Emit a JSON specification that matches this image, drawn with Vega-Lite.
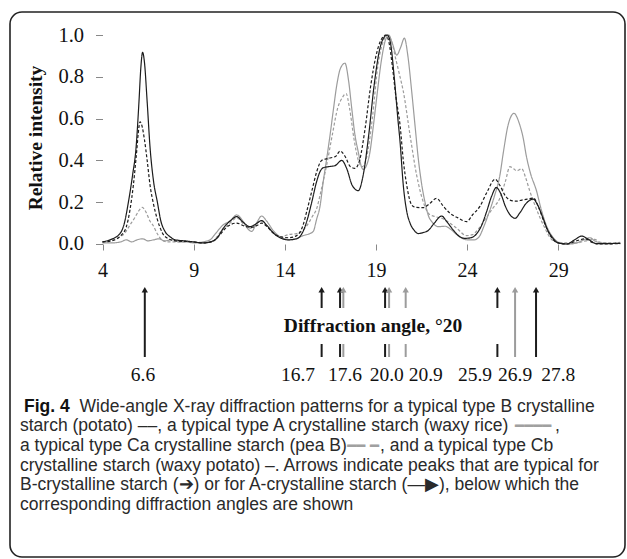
{
  "$schema": "https://vega.github.io/schema/vega-lite/v6.json",
  "width": 615,
  "height": 545,
  "autosize": {"type": "none"},
  "padding": {"left": 10, "top": 12, "right": 2, "bottom": 2},
  "background": "white",
  "config": {
    "view": {"stroke": "#222", "strokeWidth": 1.6, "cornerRadius": 12},
    "font": "Liberation Serif"
  },
  "datasets": {
    "curves": [
      {"s":"A","x":4.0,"y":0.005},{"s":"A","x":4.5,"y":0.005},{"s":"A","x":5.0,"y":0.01},{"s":"A","x":5.3,"y":0.02},{"s":"A","x":5.6,"y":0.01},{"s":"A","x":5.9,"y":0.02},{"s":"A","x":6.2,"y":0.025},{"s":"A","x":6.5,"y":0.015},{"s":"A","x":6.8,"y":0.02},{"s":"A","x":7.1,"y":0.025},{"s":"A","x":7.4,"y":0.015},{"s":"A","x":7.8,"y":0.02},{"s":"A","x":8.2,"y":0.01},{"s":"A","x":8.6,"y":0.01},{"s":"A","x":9.0,"y":0.005},{"s":"A","x":9.5,"y":0.01},{"s":"A","x":9.9,"y":0.02},{"s":"A","x":10.2,"y":0.05},{"s":"A","x":10.6,"y":0.09},{"s":"A","x":11.0,"y":0.11},{"s":"A","x":11.36,"y":0.139},{"s":"A","x":11.7,"y":0.11},{"s":"A","x":12.0,"y":0.07},{"s":"A","x":12.18,"y":0.06},{"s":"A","x":12.45,"y":0.1},{"s":"A","x":12.73,"y":0.134},{"s":"A","x":13.0,"y":0.11},{"s":"A","x":13.4,"y":0.06},{"s":"A","x":13.83,"y":0.03},{"s":"A","x":14.2,"y":0.02},{"s":"A","x":14.6,"y":0.025},{"s":"A","x":15.0,"y":0.04},{"s":"A","x":15.38,"y":0.05},{"s":"A","x":15.56,"y":0.06},{"s":"A","x":15.75,"y":0.12},{"s":"A","x":15.93,"y":0.18},{"s":"A","x":16.11,"y":0.3},{"s":"A","x":16.3,"y":0.41},{"s":"A","x":16.48,"y":0.52},{"s":"A","x":16.66,"y":0.64},{"s":"A","x":16.85,"y":0.76},{"s":"A","x":17.05,"y":0.84},{"s":"A","x":17.3,"y":0.865},{"s":"A","x":17.5,"y":0.78},{"s":"A","x":17.67,"y":0.65},{"s":"A","x":17.85,"y":0.52},{"s":"A","x":18.03,"y":0.44},{"s":"A","x":18.2,"y":0.37},{"s":"A","x":18.31,"y":0.357},{"s":"A","x":18.45,"y":0.37},{"s":"A","x":18.67,"y":0.44},{"s":"A","x":18.85,"y":0.56},{"s":"A","x":19.04,"y":0.7},{"s":"A","x":19.3,"y":0.88},{"s":"A","x":19.5,"y":0.97},{"s":"A","x":19.7,"y":1.0},{"s":"A","x":19.9,"y":0.96},{"s":"A","x":20.14,"y":0.904},{"s":"A","x":20.35,"y":0.94},{"s":"A","x":20.56,"y":0.985},{"s":"A","x":20.75,"y":0.9},{"s":"A","x":20.96,"y":0.73},{"s":"A","x":21.15,"y":0.56},{"s":"A","x":21.32,"y":0.41},{"s":"A","x":21.5,"y":0.29},{"s":"A","x":21.69,"y":0.2},{"s":"A","x":21.9,"y":0.13},{"s":"A","x":22.06,"y":0.107},{"s":"A","x":22.42,"y":0.083},{"s":"A","x":22.8,"y":0.085},{"s":"A","x":23.1,"y":0.07},{"s":"A","x":23.5,"y":0.04},{"s":"A","x":24.0,"y":0.02},{"s":"A","x":24.4,"y":0.02},{"s":"A","x":24.7,"y":0.04},{"s":"A","x":24.9,"y":0.08},{"s":"A","x":25.2,"y":0.15},{"s":"A","x":25.5,"y":0.23},{"s":"A","x":25.8,"y":0.33},{"s":"A","x":25.99,"y":0.44},{"s":"A","x":26.25,"y":0.57},{"s":"A","x":26.57,"y":0.625},{"s":"A","x":26.85,"y":0.58},{"s":"A","x":27.08,"y":0.505},{"s":"A","x":27.25,"y":0.42},{"s":"A","x":27.45,"y":0.346},{"s":"A","x":27.82,"y":0.25},{"s":"A","x":28.05,"y":0.17},{"s":"A","x":28.27,"y":0.107},{"s":"A","x":28.5,"y":0.06},{"s":"A","x":28.73,"y":0.03},{"s":"A","x":29.1,"y":0.005},{"s":"A","x":29.6,"y":0.0},{"s":"A","x":30.0,"y":0.005},{"s":"A","x":30.4,"y":0.02},{"s":"A","x":30.74,"y":0.03},{"s":"A","x":31.0,"y":0.015},{"s":"A","x":31.4,"y":0.005},{"s":"A","x":32.0,"y":0.003},{"s":"A","x":32.4,"y":0.003},

      {"s":"Cb","x":4.0,"y":0.01},{"s":"Cb","x":4.85,"y":0.03},{"s":"Cb","x":5.2,"y":0.05},{"s":"Cb","x":5.5,"y":0.09},{"s":"Cb","x":5.8,"y":0.13},{"s":"Cb","x":6.0,"y":0.16},{"s":"Cb","x":6.18,"y":0.175},{"s":"Cb","x":6.4,"y":0.15},{"s":"Cb","x":6.6,"y":0.11},{"s":"Cb","x":6.77,"y":0.09},{"s":"Cb","x":7.0,"y":0.05},{"s":"Cb","x":7.25,"y":0.02},{"s":"Cb","x":7.6,"y":0.01},{"s":"Cb","x":8.5,"y":0.01},{"s":"Cb","x":9.5,"y":0.005},{"s":"Cb","x":10.0,"y":0.01},{"s":"Cb","x":10.5,"y":0.06},{"s":"Cb","x":11.0,"y":0.1},{"s":"Cb","x":11.36,"y":0.125},{"s":"Cb","x":11.8,"y":0.09},{"s":"Cb","x":12.18,"y":0.075},{"s":"Cb","x":12.5,"y":0.1},{"s":"Cb","x":12.73,"y":0.11},{"s":"Cb","x":13.0,"y":0.09},{"s":"Cb","x":13.4,"y":0.05},{"s":"Cb","x":13.8,"y":0.035},{"s":"Cb","x":14.2,"y":0.045},{"s":"Cb","x":14.65,"y":0.05},{"s":"Cb","x":15.0,"y":0.065},{"s":"Cb","x":15.3,"y":0.1},{"s":"Cb","x":15.5,"y":0.13},{"s":"Cb","x":15.75,"y":0.17},{"s":"Cb","x":16.0,"y":0.26},{"s":"Cb","x":16.3,"y":0.38},{"s":"Cb","x":16.6,"y":0.52},{"s":"Cb","x":16.9,"y":0.65},{"s":"Cb","x":17.15,"y":0.7},{"s":"Cb","x":17.36,"y":0.72},{"s":"Cb","x":17.55,"y":0.65},{"s":"Cb","x":17.8,"y":0.5},{"s":"Cb","x":18.0,"y":0.41},{"s":"Cb","x":18.25,"y":0.37},{"s":"Cb","x":18.5,"y":0.42},{"s":"Cb","x":18.8,"y":0.6},{"s":"Cb","x":19.1,"y":0.85},{"s":"Cb","x":19.4,"y":0.97},{"s":"Cb","x":19.65,"y":1.0},{"s":"Cb","x":19.85,"y":0.97},{"s":"Cb","x":20.1,"y":0.88},{"s":"Cb","x":20.32,"y":0.8},{"s":"Cb","x":20.5,"y":0.73},{"s":"Cb","x":20.87,"y":0.52},{"s":"Cb","x":21.23,"y":0.33},{"s":"Cb","x":21.6,"y":0.2},{"s":"Cb","x":21.96,"y":0.14},{"s":"Cb","x":22.3,"y":0.13},{"s":"Cb","x":22.7,"y":0.12},{"s":"Cb","x":23.06,"y":0.1},{"s":"Cb","x":23.43,"y":0.075},{"s":"Cb","x":23.97,"y":0.04},{"s":"Cb","x":24.3,"y":0.045},{"s":"Cb","x":24.6,"y":0.07},{"s":"Cb","x":25.0,"y":0.12},{"s":"Cb","x":25.4,"y":0.17},{"s":"Cb","x":25.8,"y":0.22},{"s":"Cb","x":26.1,"y":0.3},{"s":"Cb","x":26.35,"y":0.37},{"s":"Cb","x":26.55,"y":0.36},{"s":"Cb","x":26.72,"y":0.35},{"s":"Cb","x":27.0,"y":0.36},{"s":"Cb","x":27.2,"y":0.32},{"s":"Cb","x":27.45,"y":0.25},{"s":"Cb","x":27.7,"y":0.19},{"s":"Cb","x":28.0,"y":0.125},{"s":"Cb","x":28.3,"y":0.07},{"s":"Cb","x":28.55,"y":0.03},{"s":"Cb","x":28.9,"y":0.01},{"s":"Cb","x":29.5,"y":0.005},{"s":"Cb","x":30.0,"y":0.005},{"s":"Cb","x":30.5,"y":0.015},{"s":"Cb","x":31.0,"y":0.022},{"s":"Cb","x":31.3,"y":0.008},{"s":"Cb","x":31.8,"y":0.005},{"s":"Cb","x":32.4,"y":0.008},

      {"s":"Ca","x":4.0,"y":0.01},{"s":"Ca","x":4.5,"y":0.015},{"s":"Ca","x":5.0,"y":0.04},{"s":"Ca","x":5.3,"y":0.08},{"s":"Ca","x":5.5,"y":0.16},{"s":"Ca","x":5.69,"y":0.28},{"s":"Ca","x":5.85,"y":0.42},{"s":"Ca","x":6.0,"y":0.56},{"s":"Ca","x":6.06,"y":0.585},{"s":"Ca","x":6.15,"y":0.57},{"s":"Ca","x":6.3,"y":0.5},{"s":"Ca","x":6.45,"y":0.4},{"s":"Ca","x":6.61,"y":0.28},{"s":"Ca","x":6.8,"y":0.19},{"s":"Ca","x":7.0,"y":0.12},{"s":"Ca","x":7.15,"y":0.08},{"s":"Ca","x":7.3,"y":0.05},{"s":"Ca","x":7.52,"y":0.03},{"s":"Ca","x":8.0,"y":0.015},{"s":"Ca","x":9.0,"y":0.01},{"s":"Ca","x":9.5,"y":0.005},{"s":"Ca","x":10.0,"y":0.01},{"s":"Ca","x":10.4,"y":0.04},{"s":"Ca","x":10.8,"y":0.08},{"s":"Ca","x":11.36,"y":0.1},{"s":"Ca","x":11.8,"y":0.085},{"s":"Ca","x":12.18,"y":0.08},{"s":"Ca","x":12.5,"y":0.09},{"s":"Ca","x":12.73,"y":0.1},{"s":"Ca","x":13.0,"y":0.085},{"s":"Ca","x":13.4,"y":0.05},{"s":"Ca","x":13.74,"y":0.035},{"s":"Ca","x":14.2,"y":0.03},{"s":"Ca","x":14.65,"y":0.04},{"s":"Ca","x":15.0,"y":0.09},{"s":"Ca","x":15.2,"y":0.155},{"s":"Ca","x":15.5,"y":0.26},{"s":"Ca","x":15.75,"y":0.346},{"s":"Ca","x":16.02,"y":0.4},{"s":"Ca","x":16.4,"y":0.41},{"s":"Ca","x":16.8,"y":0.42},{"s":"Ca","x":17.03,"y":0.445},{"s":"Ca","x":17.3,"y":0.42},{"s":"Ca","x":17.6,"y":0.37},{"s":"Ca","x":17.85,"y":0.362},{"s":"Ca","x":18.1,"y":0.4},{"s":"Ca","x":18.4,"y":0.55},{"s":"Ca","x":18.7,"y":0.75},{"s":"Ca","x":19.0,"y":0.9},{"s":"Ca","x":19.3,"y":0.98},{"s":"Ca","x":19.53,"y":1.0},{"s":"Ca","x":19.7,"y":0.97},{"s":"Ca","x":19.9,"y":0.85},{"s":"Ca","x":20.1,"y":0.7},{"s":"Ca","x":20.32,"y":0.57},{"s":"Ca","x":20.5,"y":0.4},{"s":"Ca","x":20.69,"y":0.28},{"s":"Ca","x":20.96,"y":0.187},{"s":"Ca","x":21.2,"y":0.175},{"s":"Ca","x":21.6,"y":0.174},{"s":"Ca","x":21.9,"y":0.19},{"s":"Ca","x":22.33,"y":0.218},{"s":"Ca","x":22.7,"y":0.18},{"s":"Ca","x":23.06,"y":0.147},{"s":"Ca","x":23.5,"y":0.125},{"s":"Ca","x":23.97,"y":0.107},{"s":"Ca","x":24.3,"y":0.14},{"s":"Ca","x":24.7,"y":0.18},{"s":"Ca","x":25.1,"y":0.25},{"s":"Ca","x":25.53,"y":0.31},{"s":"Ca","x":25.8,"y":0.28},{"s":"Ca","x":26.1,"y":0.23},{"s":"Ca","x":26.35,"y":0.21},{"s":"Ca","x":26.7,"y":0.205},{"s":"Ca","x":27.0,"y":0.21},{"s":"Ca","x":27.3,"y":0.215},{"s":"Ca","x":27.63,"y":0.22},{"s":"Ca","x":27.9,"y":0.18},{"s":"Ca","x":28.2,"y":0.11},{"s":"Ca","x":28.5,"y":0.05},{"s":"Ca","x":28.73,"y":0.02},{"s":"Ca","x":29.0,"y":0.005},{"s":"Ca","x":29.5,"y":0.0},{"s":"Ca","x":30.0,"y":0.015},{"s":"Ca","x":30.5,"y":0.025},{"s":"Ca","x":30.8,"y":0.01},{"s":"Ca","x":31.2,"y":0.0},{"s":"Ca","x":32.4,"y":0.002},

      {"s":"B","x":4.0,"y":0.01},{"s":"B","x":4.41,"y":0.02},{"s":"B","x":4.96,"y":0.05},{"s":"B","x":5.2,"y":0.1},{"s":"B","x":5.42,"y":0.2},{"s":"B","x":5.65,"y":0.33},{"s":"B","x":5.84,"y":0.46},{"s":"B","x":6.0,"y":0.68},{"s":"B","x":6.1,"y":0.84},{"s":"B","x":6.2,"y":0.917},{"s":"B","x":6.3,"y":0.87},{"s":"B","x":6.45,"y":0.68},{"s":"B","x":6.61,"y":0.46},{"s":"B","x":6.8,"y":0.3},{"s":"B","x":7.01,"y":0.2},{"s":"B","x":7.2,"y":0.11},{"s":"B","x":7.43,"y":0.06},{"s":"B","x":7.7,"y":0.035},{"s":"B","x":8.0,"y":0.02},{"s":"B","x":8.5,"y":0.015},{"s":"B","x":9.0,"y":0.01},{"s":"B","x":9.5,"y":0.005},{"s":"B","x":9.9,"y":0.01},{"s":"B","x":10.3,"y":0.03},{"s":"B","x":10.63,"y":0.076},{"s":"B","x":11.0,"y":0.11},{"s":"B","x":11.36,"y":0.131},{"s":"B","x":11.7,"y":0.105},{"s":"B","x":12.09,"y":0.083},{"s":"B","x":12.4,"y":0.095},{"s":"B","x":12.73,"y":0.112},{"s":"B","x":13.0,"y":0.09},{"s":"B","x":13.4,"y":0.05},{"s":"B","x":13.74,"y":0.03},{"s":"B","x":14.2,"y":0.02},{"s":"B","x":14.65,"y":0.025},{"s":"B","x":15.0,"y":0.06},{"s":"B","x":15.2,"y":0.107},{"s":"B","x":15.45,"y":0.19},{"s":"B","x":15.75,"y":0.3},{"s":"B","x":15.93,"y":0.346},{"s":"B","x":16.11,"y":0.365},{"s":"B","x":16.4,"y":0.37},{"s":"B","x":16.75,"y":0.375},{"s":"B","x":17.12,"y":0.4},{"s":"B","x":17.4,"y":0.36},{"s":"B","x":17.7,"y":0.28},{"s":"B","x":18.03,"y":0.255},{"s":"B","x":18.3,"y":0.33},{"s":"B","x":18.6,"y":0.52},{"s":"B","x":18.9,"y":0.76},{"s":"B","x":19.2,"y":0.93},{"s":"B","x":19.45,"y":0.99},{"s":"B","x":19.62,"y":1.0},{"s":"B","x":19.8,"y":0.96},{"s":"B","x":20.0,"y":0.8},{"s":"B","x":20.2,"y":0.6},{"s":"B","x":20.32,"y":0.49},{"s":"B","x":20.5,"y":0.28},{"s":"B","x":20.69,"y":0.155},{"s":"B","x":20.87,"y":0.1},{"s":"B","x":21.1,"y":0.065},{"s":"B","x":21.32,"y":0.05},{"s":"B","x":21.6,"y":0.055},{"s":"B","x":21.87,"y":0.065},{"s":"B","x":22.2,"y":0.1},{"s":"B","x":22.6,"y":0.134},{"s":"B","x":22.9,"y":0.105},{"s":"B","x":23.24,"y":0.067},{"s":"B","x":23.6,"y":0.035},{"s":"B","x":23.88,"y":0.027},{"s":"B","x":24.2,"y":0.03},{"s":"B","x":24.53,"y":0.05},{"s":"B","x":24.8,"y":0.09},{"s":"B","x":25.07,"y":0.155},{"s":"B","x":25.35,"y":0.23},{"s":"B","x":25.6,"y":0.27},{"s":"B","x":25.85,"y":0.24},{"s":"B","x":26.1,"y":0.18},{"s":"B","x":26.4,"y":0.135},{"s":"B","x":26.63,"y":0.123},{"s":"B","x":26.9,"y":0.15},{"s":"B","x":27.2,"y":0.19},{"s":"B","x":27.45,"y":0.21},{"s":"B","x":27.63,"y":0.215},{"s":"B","x":27.85,"y":0.19},{"s":"B","x":28.18,"y":0.12},{"s":"B","x":28.4,"y":0.07},{"s":"B","x":28.64,"y":0.035},{"s":"B","x":29.0,"y":0.005},{"s":"B","x":29.46,"y":0.0},{"s":"B","x":29.9,"y":0.02},{"s":"B","x":30.29,"y":0.038},{"s":"B","x":30.6,"y":0.025},{"s":"B","x":31.1,"y":0.002},{"s":"B","x":31.6,"y":0.002},{"s":"B","x":32.4,"y":0.003}
    ],
    "arrows": [
      {"angle": 6.32, "type": "B", "full": true},
      {"angle": 16.02, "type": "B", "full": false},
      {"angle": 17.03, "type": "B", "full": false},
      {"angle": 17.21, "type": "A", "full": false},
      {"angle": 19.5, "type": "B", "full": false},
      {"angle": 19.72, "type": "A", "full": false},
      {"angle": 20.63, "type": "A", "full": false},
      {"angle": 25.66, "type": "B", "full": false},
      {"angle": 26.63, "type": "A", "full": true},
      {"angle": 27.78, "type": "B", "full": true}
    ],
    "angleLabels": [
      {"label": "6.6", "at": 6.22},
      {"label": "16.7", "at": 14.72},
      {"label": "17.6", "at": 17.3},
      {"label": "20.0", "at": 19.59},
      {"label": "20.9", "at": 21.73},
      {"label": "25.9", "at": 24.43},
      {"label": "26.9", "at": 26.63},
      {"label": "27.8", "at": 29.0}
    ],
    "caption": [
      {"line": 1, "part": "fig", "text": "Fig. 4"},
      {"line": 1, "part": "first", "text": "Wide-angle X-ray diffraction patterns for a typical type B crystalline"},
      {"line": 2, "part": "body", "text": "starch (potato) ––, a typical type A crystalline starch (waxy rice)"},
      {"line": 2, "part": "gray2", "text": "━━━━"},
      {"line": 2, "part": "tail2", "text": ","},
      {"line": 3, "part": "body", "text": "a typical type Ca crystalline starch (pea B)"},
      {"line": 3, "part": "gray3", "text": "━━ ━"},
      {"line": 3, "part": "tail3", "text": ", and a typical type Cb"},
      {"line": 4, "part": "body", "text": "crystalline starch (waxy potato) –. Arrows indicate peaks that are typical for"},
      {"line": 5, "part": "body", "text": "B-crystalline starch (➔) or for A-crystalline starch (—▶), below which the"},
      {"line": 6, "part": "body", "text": "corresponding diffraction angles are shown"}
    ]
  },
  "layer": [
    {
      "layer": [
        {
          "data": {"name": "curves"},
          "mark": {"type": "line", "interpolate": "monotone", "strokeWidth": 1.2},
          "encoding": {
            "x": {
              "field": "x", "type": "quantitative",
              "scale": {"domain": [-1.074, 32.66], "nice": false, "zero": false},
              "axis": {
                "orient": "bottom", "offset": -313, "values": [4, 9, 14, 19, 24, 29],
                "domain": false, "grid": false, "tickSize": 6, "tickColor": "#888", "tickWidth": 1,
                "labelFont": "Liberation Serif", "labelFontSize": 20, "labelColor": "#111",
                "labelBaseline": "alphabetic", "labelPadding": 26, "labelFlush": false, "labelOverlap": false,
                "title": "Diffraction angle, °20", "titleFont": "Liberation Serif", "titleFontSize": 19.5,
                "titleFontWeight": "bold", "titleColor": "#111", "titleX": 362.5, "titleY": 87,
                "titleAlign": "center", "titleBaseline": "alphabetic"
              }
            },
            "y": {
              "field": "y", "type": "quantitative",
              "scale": {"domain": [-1.497608, 1.110048], "nice": false, "zero": false},
              "axis": {
                "orient": "left", "offset": -92.5, "values": [0, 0.2, 0.4, 0.6, 0.8, 1.0], "format": ".1f",
                "domain": false, "grid": false, "tickSize": 7, "tickColor": "#888", "tickWidth": 1,
                "labelFont": "Liberation Serif", "labelFontSize": 20.5, "labelColor": "#111",
                "labelPadding": 12, "labelBaseline": "middle", "labelFlush": false, "labelOverlap": false,
                "title": "Relative intensity", "titleFont": "Liberation Serif", "titleFontSize": 19.5,
                "titleFontWeight": "bold", "titleColor": "#111", "titleX": -61, "titleY": 125.5,
                "titleAngle": 270, "titleAlign": "center", "titleBaseline": "alphabetic"
              }
            },
            "color": {
              "field": "s", "type": "nominal",
              "scale": {"domain": ["A", "Cb", "Ca", "B"], "range": ["#9c9c9c", "#9c9c9c", "#1c1c1c", "#1c1c1c"]},
              "legend": null
            },
            "strokeDash": {
              "field": "s", "type": "nominal",
              "scale": {"domain": ["A", "Cb", "Ca", "B"], "range": [[1, 0], [3, 2], [3, 2], [1, 0]]},
              "legend": null
            }
          }
        },
        {
          "mark": {"type": "rule", "color": "#888", "strokeWidth": 1},
          "encoding": {"x": {"datum": 4}, "y": {"datum": 0}, "y2": {"datum": 1}}
        },
        {
          "mark": {"type": "rule", "color": "#888", "strokeWidth": 1},
          "encoding": {"x": {"datum": 4}, "x2": {"datum": 32.4}, "y": {"datum": 0}}
        },
        {
          "data": {"name": "arrows"},
          "mark": {"type": "rule", "strokeWidth": 2},
          "encoding": {
            "x": {"field": "angle", "type": "quantitative"},
            "y": {"datum": -0.2249}, "y2": {"datum": -0.3062},
            "color": {"field": "type", "type": "nominal", "scale": {"domain": ["B", "A"], "range": ["#111111", "#a0a0a0"]}, "legend": null}
          }
        },
        {
          "data": {"name": "arrows"},
          "transform": [{"filter": "datum.full"}],
          "mark": {"type": "rule", "strokeWidth": 2},
          "encoding": {
            "x": {"field": "angle", "type": "quantitative"},
            "y": {"datum": -0.3062}, "y2": {"datum": -0.4785},
            "color": {"field": "type", "type": "nominal", "legend": null}
          }
        },
        {
          "data": {"name": "arrows"},
          "mark": {"type": "rule", "strokeWidth": 2},
          "encoding": {
            "x": {"field": "angle", "type": "quantitative"},
            "y": {"datum": -0.4785}, "y2": {"datum": -0.5407},
            "color": {"field": "type", "type": "nominal", "legend": null}
          }
        },
        {
          "data": {"name": "arrows"},
          "mark": {"type": "point", "shape": "triangle-up", "filled": true, "size": 40, "opacity": 1},
          "encoding": {
            "x": {"field": "angle", "type": "quantitative"},
            "y": {"datum": -0.2187},
            "color": {"field": "type", "type": "nominal", "legend": null}
          }
        },
        {
          "data": {"name": "angleLabels"},
          "mark": {"type": "text", "font": "Liberation Serif", "fontSize": 19.5, "align": "center", "baseline": "alphabetic", "color": "#111"},
          "encoding": {
            "x": {"field": "at", "type": "quantitative"},
            "y": {"datum": -0.6555},
            "text": {"field": "label"}
          }
        }
      ]
    },
    {
      "data": {"name": "caption"},
      "encoding": {
        "y": {"field": "line", "type": "quantitative", "scale": {"domain": [1, 6], "range": [394.7, 493]}, "axis": null}
      },
      "layer": [
        {
          "transform": [{"filter": "datum.part == 'body'"}],
          "mark": {"type": "text", "font": "Liberation Sans", "fontSize": 17.5, "align": "left", "baseline": "middle", "color": "#2a2a2a"},
          "encoding": {"x": {"datum": -0.5255}, "text": {"field": "text"}}
        },
        {
          "transform": [{"filter": "datum.part == 'fig'"}],
          "mark": {"type": "text", "font": "Liberation Sans", "fontSize": 17.5, "fontWeight": "bold", "align": "left", "baseline": "middle", "color": "#111"},
          "encoding": {"x": {"datum": -0.306}, "text": {"field": "text"}}
        },
        {
          "transform": [{"filter": "datum.part == 'first'"}],
          "mark": {"type": "text", "font": "Liberation Sans", "fontSize": 17.5, "align": "left", "baseline": "middle", "color": "#2a2a2a"},
          "encoding": {"x": {"datum": 2.74}, "text": {"field": "text"}}
        },
        {
          "transform": [{"filter": "datum.part == 'gray2'"}],
          "mark": {"type": "text", "font": "DejaVu Sans", "fontSize": 15, "align": "left", "baseline": "middle", "color": "#a0a0a0"},
          "encoding": {"x": {"datum": 26.632}, "text": {"field": "text"}}
        },
        {
          "transform": [{"filter": "datum.part == 'tail2'"}],
          "mark": {"type": "text", "font": "Liberation Sans", "fontSize": 17.5, "align": "left", "baseline": "middle", "color": "#2a2a2a"},
          "encoding": {"x": {"datum": 28.82}, "text": {"field": "text"}}
        },
        {
          "transform": [{"filter": "datum.part == 'gray3'"}],
          "mark": {"type": "text", "font": "DejaVu Sans", "fontSize": 15, "align": "left", "baseline": "middle", "color": "#a0a0a0"},
          "encoding": {"x": {"datum": 17.427}, "text": {"field": "text"}}
        },
        {
          "transform": [{"filter": "datum.part == 'tail3'"}],
          "mark": {"type": "text", "font": "Liberation Sans", "fontSize": 17.5, "align": "left", "baseline": "middle", "color": "#2a2a2a"},
          "encoding": {"x": {"datum": 19.221}, "text": {"field": "text"}}
        }
      ]
    }
  ],
  "resolve": {"scale": {"y": "independent"}}
}
